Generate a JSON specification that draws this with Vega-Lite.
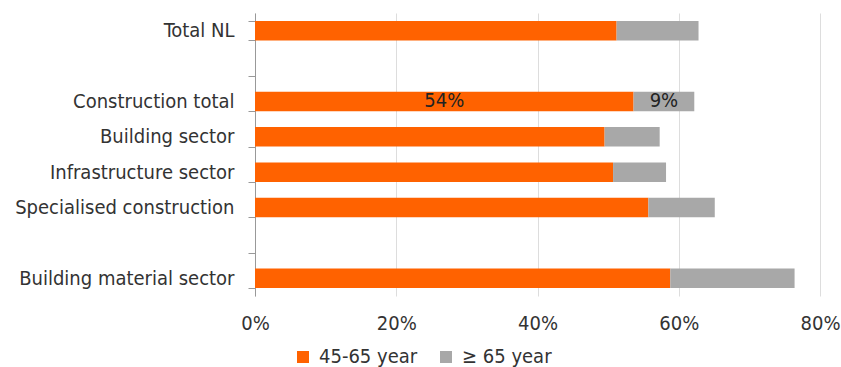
{
  "$schema": "https://vega.github.io/schema/vega-lite/v6.json",
  "width": 565,
  "height": 283,
  "autosize": {"type": "none"},
  "padding": {"left": 255, "top": 13, "right": 21, "bottom": 71},
  "background": "white",
  "config": {
    "view": {"stroke": null},
    "font": "DejaVu Sans Condensed"
  },
  "data": {
    "values": [
      {"category": "Total NL", "series": "45-65 year", "value": 51.2, "label": ""},
      {"category": "Total NL", "series": "≥ 65 year", "value": 11.6, "label": ""},
      {"category": "Construction total", "series": "45-65 year", "value": 53.6, "label": "54%"},
      {"category": "Construction total", "series": "≥ 65 year", "value": 8.6, "label": "9%"},
      {"category": "Building sector", "series": "45-65 year", "value": 49.5, "label": ""},
      {"category": "Building sector", "series": "≥ 65 year", "value": 7.8, "label": ""},
      {"category": "Infrastructure sector", "series": "45-65 year", "value": 50.7, "label": ""},
      {"category": "Infrastructure sector", "series": "≥ 65 year", "value": 7.5, "label": ""},
      {"category": "Specialised construction", "series": "45-65 year", "value": 55.7, "label": ""},
      {"category": "Specialised construction", "series": "≥ 65 year", "value": 9.4, "label": ""},
      {"category": "Building material sector", "series": "45-65 year", "value": 58.8, "label": ""},
      {"category": "Building material sector", "series": "≥ 65 year", "value": 17.6, "label": ""}
    ]
  },
  "encoding": {
    "y": {
      "field": "category",
      "type": "nominal",
      "title": null,
      "scale": {
        "domain": ["Total NL", " ", "Construction total", "Building sector", "Infrastructure sector", "Specialised construction", "  ", "Building material sector"],
        "paddingInner": 0.45,
        "paddingOuter": 0.225
      },
      "axis": {
        "tickBand": "extent",
        "tickSize": 7,
        "tickColor": "#999999",
        "domainColor": "#999999",
        "labelFontSize": 20,
        "labelColor": "#333333",
        "labelPadding": 14,
        "labelLimit": 0,
        "grid": false
      }
    },
    "x": {
      "field": "value",
      "type": "quantitative",
      "stack": "zero",
      "title": null,
      "scale": {"domain": [0, 80], "nice": false},
      "axis": {
        "values": [0, 20, 40, 60, 80],
        "labelExpr": "datum.value + '%'",
        "domain": false,
        "ticks": false,
        "grid": true,
        "gridColor": "#dddddd",
        "labelFontSize": 20,
        "labelColor": "#333333",
        "labelPadding": 17,
        "labelFlush": false
      }
    },
    "order": {"field": "series", "sort": "ascending"}
  },
  "layer": [
    {
      "mark": {"type": "bar"},
      "encoding": {
        "color": {
          "field": "series",
          "type": "nominal",
          "title": null,
          "scale": {"domain": ["45-65 year", "≥ 65 year"], "range": ["#FF6200", "#A8A8A8"]},
          "legend": {
            "orient": "none",
            "legendX": 38,
            "legendY": 334,
            "direction": "horizontal",
            "symbolType": "square",
            "symbolSize": 144,
            "symbolStrokeWidth": 0,
            "labelFontSize": 20,
            "labelColor": "#333333",
            "labelOffset": 6,
            "labelLimit": 0,
            "columnPadding": 18
          }
        }
      }
    },
    {
      "mark": {"type": "text", "fontSize": 20, "color": "#222222", "baseline": "middle"},
      "encoding": {
        "x": {"field": "value", "type": "quantitative", "stack": "zero", "bandPosition": 0.5},
        "detail": {"field": "series"},
        "text": {"field": "label"}
      }
    }
  ]
}
